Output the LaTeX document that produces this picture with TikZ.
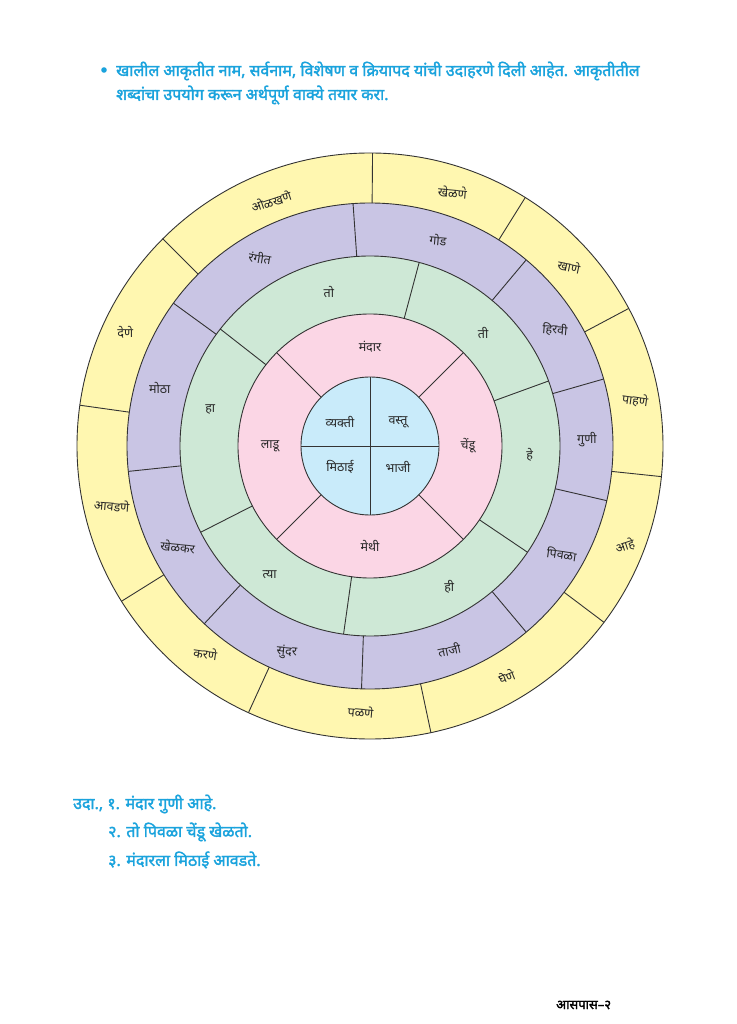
\documentclass[tikz,border=0pt]{standalone}
\usepackage{fontspec}
\newfontfamily\dev[Script=Devanagari]{Noto Sans}
\newfontfamily\devb[Script=Devanagari,FakeBold=2]{Noto Sans}
\definecolor{cyel}{HTML}{FFF7B0}
\definecolor{cpur}{HTML}{C9C5E4}
\definecolor{cgrn}{HTML}{CEE8D6}
\definecolor{cpnk}{HTML}{FBD6E5}
\definecolor{cblu}{HTML}{C9EBFA}
\definecolor{linegray}{HTML}{333333}
\definecolor{hblue}{HTML}{1AA3DD}
\begin{document}
\begin{tikzpicture}[x=1pt,y=1pt]
\tikzset{
  ring/.style={draw=linegray,line width=0.9pt},
  divider/.style={draw=linegray,line width=0.9pt},
  lbl/.style={font=\dev\fontsize{12.5}{14}\selectfont, text=black!85, inner sep=0pt},
  head/.style={font=\devb\fontsize{16}{19}\selectfont, text=hblue, inner sep=0pt, anchor=west},
}
\path[use as bounding box] (-370,446) rectangle (366,-578);
\fill[white] (-370,446) rectangle (366,-578);
% rings
\filldraw[ring,fill=cyel] (0,0) circle (293);
\filldraw[ring,fill=cpur] (0,0) circle (243);
\filldraw[ring,fill=cgrn] (0,0) circle (190);
\filldraw[ring,fill=cpnk] (0,0) circle (132);
\filldraw[ring,fill=cblu] (0,0) circle (69);
% dividers
\foreach \a in {89.5,135,172,212,245.5,282,323,354,28,58} \draw[divider] (\a:243) -- (\a:293);
\foreach \a in {94,144,186,227,268,310,347,16,50} \draw[divider] (\a:190) -- (\a:243);
\foreach \a in {75,142,207,262,326,20} \draw[divider] (\a:132) -- (\a:190);
\foreach \a in {45,135,225,315} \draw[divider] (\a:69) -- (\a:132);
\draw[divider] (0,69) -- (0,-69);
\draw[divider] (-69,0) -- (69,0);
% yellow labels
\node[lbl,rotate=-5] (y1) at (72:267) {खेळणे};
\node[lbl,rotate=18] (y2) at (112:264) {ओळखणे};
\node[lbl] (y3) at (155:270) {देणे};
\node[lbl,rotate=-5] (y4) at (193:265) {आवडणे};
\node[lbl,rotate=-8] (y5) at (231.6:265) {करणे};
\node[lbl,rotate=-5] (y6) at (268:266) {पळणे};
\node[lbl,rotate=22] (y7) at (300.6:268) {घेणे};
\node[lbl,rotate=18] (y8) at (338.5:274) {आहे};
\node[lbl,rotate=-8] (y9) at (9.8:269) {पाहणे};
\node[lbl,rotate=-12] (y10) at (42:268) {खाणे};
% purple labels
\node[lbl,rotate=-5] (p1) at (71.7:217) {गोड};
\node[lbl,rotate=-10] (p2) at (120.3:218) {रंगीत};
\node[lbl] (p3) at (164.6:218) {मोठा};
\node[lbl,rotate=-5] (p4) at (207.7:217) {खेळकर};
\node[lbl,rotate=-5] (p5) at (248:222) {सुंदर};
\node[lbl,rotate=12] (p6) at (291.2:219) {ताजी};
\node[lbl,rotate=-8] (p7) at (330.6:220) {पिवळा};
\node[lbl] (p8) at (1.7:217) {गुणी};
\node[lbl,rotate=-5] (p9) at (32.2:218.6) {हिरवी};
% green labels
\node[lbl] (g1) at (105:159) {तो};
\node[lbl] (g2) at (167:164) {हा};
\node[lbl] (g3) at (232:163) {त्या};
\node[lbl] (g4) at (299.3:162) {ही};
\node[lbl] (g5) at (356.8:160) {हे};
\node[lbl] (g6) at (45:160) {ती};
% pink labels
\node[lbl] (k1) at (90:99) {मंदार};
\node[lbl] (k2) at (0:98) {चेंडू};
\node[lbl] (k3) at (270:100) {मेथी};
\node[lbl] (k4) at (180:100) {लाडू};
% inner labels
\node[lbl] (c1) at (-30,24) {व्यक्ती};
\node[lbl] (c2) at (28,24) {वस्तू};
\node[lbl] (c3) at (-30,-21) {मिठाई};
\node[lbl] (c4) at (28,-21) {भाजी};
% heading
\fill[hblue] (-266,376) circle (2.8);
\node[head] (h1) at (-254,375) {खालील आकृतीत नाम, सर्वनाम, विशेषण व क्रियापद यांची उदाहरणे दिली आहेत. आकृतीतील};
\node[head] (h2) at (-254,351) {शब्दांचा उपयोग करून अर्थपूर्ण वाक्ये तयार करा.};
% examples
\node[head] (e1) at (-297,-358) {उदा., १. मंदार गुणी आहे.};
\node[head] (e2) at (-262,-386) {२. तो पिवळा चेंडू खेळतो.};
\node[head] (e3) at (-262,-414) {३. मंदारला मिठाई आवडते.};
% footer
\node[head,text=black,font=\devb\fontsize{13}{15}\selectfont] (f) at (186,-559) {आसपास–२};
\end{tikzpicture}
\end{document}
